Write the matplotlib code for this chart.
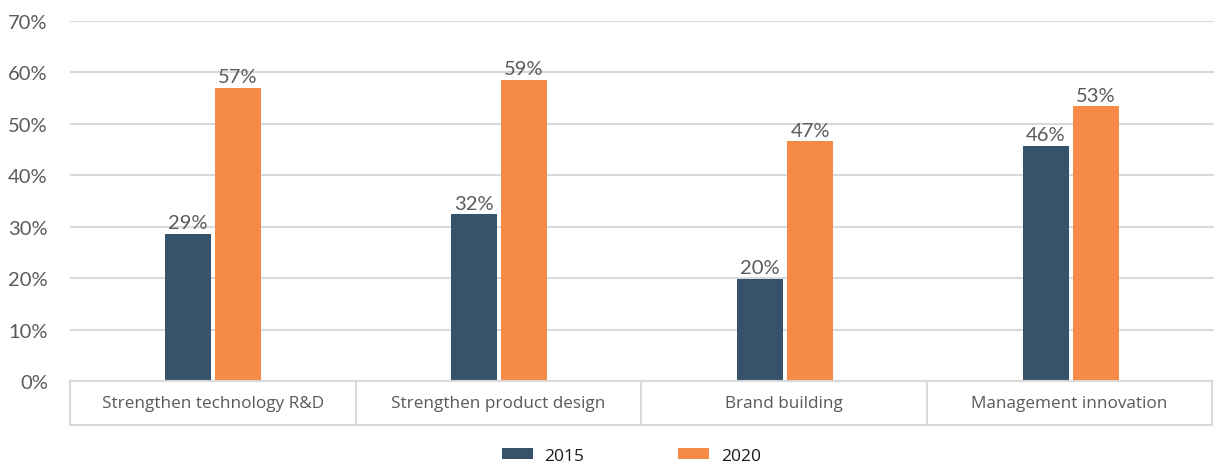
import matplotlib
matplotlib.use("Agg")
import matplotlib.pyplot as plt
import numpy as np

categories = ["Strengthen technology R&D", "Strengthen product design",
              "Brand building", "Management innovation"]
series_names = ["2015", "2020"]
values_2015 = [28.6, 32.4, 19.8, 45.7]
values_2020 = [57.0, 58.6, 46.6, 53.4]
colors = ["#37536B", "#F68B47"]
y_ticks = [0, 10, 20, 30, 40, 50, 60, 70]

W, H = 1214, 464
fig = plt.figure(figsize=(W / 100, H / 100), dpi=100)

left, right, top, bottom = 70, 1214, 22, 382
ax = fig.add_axes([left / W, 1 - bottom / H, (right - left) / W, (bottom - top) / H])

x = np.arange(len(categories))
bw = 0.161
gap = 0.007
bars1 = ax.bar(x - bw / 2 - gap, values_2015, bw, color=colors[0], label=series_names[0], zorder=3)
bars2 = ax.bar(x + bw / 2 + gap, values_2020, bw, color=colors[1], label=series_names[1], zorder=3)

for bars, vals in ((bars1, values_2015), (bars2, values_2020)):
    for b, v in zip(bars, vals):
        ax.annotate(f"{v:.0f}%", (b.get_x() + b.get_width() / 2, v),
                    xytext=(0, 2), textcoords="offset points",
                    ha="center", va="bottom", fontsize=14.5, color="#5A5A5A",
                    family="Lato")

ax.set_xlim(-0.5, len(categories) - 0.5)
ax.set_ylim(0, 70)
ax.set_yticks(y_ticks)
ax.set_yticklabels([f"{t}%" for t in y_ticks], fontsize=14.5, color="#5A5A5A",
                   family="Lato")
ax.tick_params(axis="y", length=0, pad=16)
ax.set_xticks([])
ax.yaxis.grid(True, color="#D9D9D9", linewidth=1.5, zorder=0)
for s in ax.spines.values():
    s.set_visible(False)

# category table under the plot
tb_top, tb_bottom = 382, 426
tax = fig.add_axes([left / W, 1 - tb_bottom / H, (right - 2 - left) / W, (tb_bottom - tb_top) / H])
tax.set_xlim(-0.5, len(categories) - 0.5)
tax.set_ylim(0, 1)
tax.set_xticks([])
tax.set_yticks([])
for s in tax.spines.values():
    s.set_color("#D9D9D9")
    s.set_linewidth(1.5)
for xv in x[:-1] + 0.5:
    tax.axvline(xv, color="#D9D9D9", linewidth=1.5)
for xi, cat in zip(x, categories):
    tax.text(xi, 0.5, cat, ha="center", va="center", fontsize=12.3,
             color="#595959", family="Open Sans")

leg = fig.legend(handles=[bars1, bars2], labels=series_names, loc="lower center",
                 bbox_to_anchor=(0.52, -0.035), ncol=2, frameon=False,
                 handlelength=1.8, handleheight=0.6,
                 handletextpad=0.65, columnspacing=5.4,
                 prop={"family": "Open Sans", "size": 12.5})
for t in leg.get_texts():
    t.set_color("#1A1A1A")

fig.savefig("out.png", dpi=100, facecolor="white")
